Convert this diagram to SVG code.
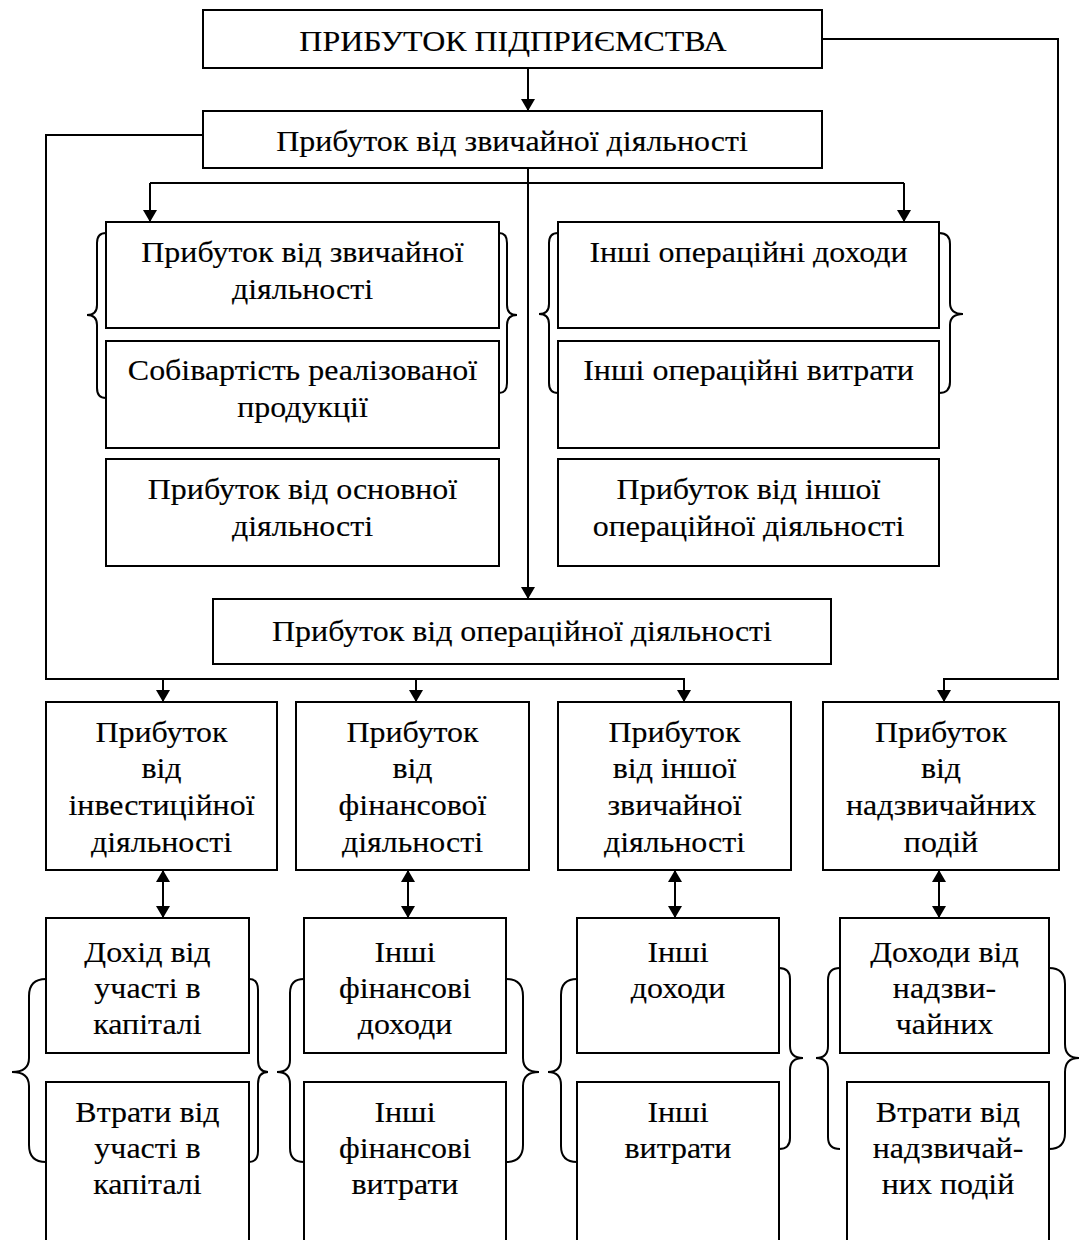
<svg xmlns="http://www.w3.org/2000/svg" width="1082" height="1240" viewBox="0 0 1082 1240">
  <style>
    .box { fill: #ffffff; stroke: #000000; stroke-width: 2; }
    .ln { fill: none; stroke: #000000; stroke-width: 2; }
    .br { fill: none; stroke: #000000; stroke-width: 2; }
    .t text { font-size: 30px; fill: #000000; stroke: #000000; stroke-width: 0.15; text-anchor: middle; }
  </style>
  <defs>
    <marker id="ah" viewBox="0 0 12 14" refX="12" refY="7" markerWidth="12" markerHeight="14" markerUnits="userSpaceOnUse" orient="auto-start-reverse">
      <path d="M0,0 L12,7 L0,14 Z" fill="#000000"/>
    </marker>
  </defs>
  <rect width="1082" height="1240" fill="#ffffff"/>

  <!-- connectors -->
  <g id="connectors">
    <path class="ln" d="M822,39 H1058 V679 H944 V702" marker-end="url(#ah)"/>
    <path class="ln" d="M528,68 V111" marker-end="url(#ah)"/>
    <path class="ln" d="M202,135 H46 V679 H684 V702" marker-end="url(#ah)"/>
    <path class="ln" d="M163,679 V702" marker-end="url(#ah)"/>
    <path class="ln" d="M416,679 V702" marker-end="url(#ah)"/>
    <path class="ln" d="M528,168 V599" marker-end="url(#ah)"/>
    <path class="ln" d="M150,183 H904"/>
    <path class="ln" d="M150,183 V222" marker-end="url(#ah)"/>
    <path class="ln" d="M904,183 V222" marker-end="url(#ah)"/>
    <path class="ln" d="M163,870 V918" marker-start="url(#ah)" marker-end="url(#ah)"/>
    <path class="ln" d="M408,870 V918" marker-start="url(#ah)" marker-end="url(#ah)"/>
    <path class="ln" d="M675,870 V918" marker-start="url(#ah)" marker-end="url(#ah)"/>
    <path class="ln" d="M939,870 V918" marker-start="url(#ah)" marker-end="url(#ah)"/>
  </g>

  <!-- braces grouping paired items -->
  <g id="braces">
    <path class="br" d="M106,233 Q97,233 97,243 V305 Q97,315 87,315 Q97,315 97,325 V388 Q97,398 106,398"/>
    <path class="br" d="M499,233 Q507,233 507,243 V305 Q507,315 517,315 Q507,315 507,325 V383 Q507,393 499,393"/>
    <path class="br" d="M558,233 Q549,233 549,243 V304 Q549,314 539,314 Q549,314 549,324 V383 Q549,393 558,393"/>
    <path class="br" d="M939,233 Q950,233 950,244 V303 Q950,314 963,314 Q950,314 950,325 V382 Q950,393 939,393"/>

    <path class="br" d="M46,979 Q29,979 29,996 V1058 Q29,1072 12,1072 Q29,1072 29,1086 V1145 Q29,1162 46,1162"/>
    <path class="br" d="M249,979 Q258,979 258,990 V1060 Q258,1072 268,1072 Q258,1072 258,1084 V1151 Q258,1162 249,1162"/>
    <path class="br" d="M304,979 Q290,979 290,993 V1060 Q290,1072 277,1072 Q290,1072 290,1084 V1148 Q290,1162 304,1162"/>
    <path class="br" d="M506,979 Q523,979 523,996 V1058 Q523,1072 539,1072 Q523,1072 523,1086 V1145 Q523,1162 506,1162"/>
    <path class="br" d="M577,979 Q561,979 561,995 V1059 Q561,1072 548,1072 Q561,1072 561,1085 V1146 Q561,1162 577,1162"/>
    <path class="br" d="M779,968 Q790,968 790,979 V1046 Q790,1058 803,1058 Q790,1058 790,1070 V1138 Q790,1149 779,1149"/>
    <path class="br" d="M840,968 Q828,968 828,980 V1046 Q828,1058 816,1058 Q828,1058 828,1070 V1137 Q828,1149 840,1149"/>
    <path class="br" d="M1049,968 Q1065,968 1065,984 V1044 Q1065,1058 1079,1058 Q1065,1058 1065,1072 V1133 Q1065,1149 1049,1149"/>
  </g>

  <!-- text blocks are widened slightly about their own centre line -->
  <g class="t" font-family="'Liberation Serif', 'Times New Roman', 'DejaVu Serif', serif">
  <g id="n-enterprise">
    <rect class="box" x="203" y="10" width="619" height="58"/>
    <g transform="matrix(1.065 0 0 1 -33.345 0)">
      <text x="513" y="51">ПРИБУТОК ПІДПРИЄМСТВА</text>
    </g>
  </g>
  <g id="n-ordinary">
    <rect class="box" x="203" y="111" width="619" height="57"/>
    <g transform="matrix(1.065 0 0 1 -33.28 0)">
      <text x="512" y="151">Прибуток від звичайної діяльності</text>
    </g>
  </g>

  <g id="n-ordinary-sub">
    <rect class="box" x="106" y="222" width="393" height="106"/>
    <g transform="matrix(1.065 0 0 1 -19.6625 0)">
      <text x="302.5" y="262">Прибуток від звичайної</text>
      <text x="302.5" y="299">діяльності</text>
    </g>
  </g>
  <g id="n-cost">
    <rect class="box" x="106" y="341" width="393" height="107"/>
    <g transform="matrix(1.065 0 0 1 -19.6625 0)">
      <text x="302.5" y="380">Собівартість реалізованої</text>
      <text x="302.5" y="417">продукції</text>
    </g>
  </g>
  <g id="n-main">
    <rect class="box" x="106" y="459" width="393" height="107"/>
    <g transform="matrix(1.065 0 0 1 -19.6625 0)">
      <text x="302.5" y="499">Прибуток від основної</text>
      <text x="302.5" y="536">діяльності</text>
    </g>
  </g>

  <g id="n-other-op-income">
    <rect class="box" x="558" y="222" width="381" height="106"/>
    <g transform="matrix(1.065 0 0 1 -48.6525 0)">
      <text x="748.5" y="262">Інші операційні доходи</text>
    </g>
  </g>
  <g id="n-other-op-expense">
    <rect class="box" x="558" y="341" width="381" height="107"/>
    <g transform="matrix(1.065 0 0 1 -48.6525 0)">
      <text x="748.5" y="380">Інші операційні витрати</text>
    </g>
  </g>
  <g id="n-other-op-profit">
    <rect class="box" x="558" y="459" width="381" height="107"/>
    <g transform="matrix(1.065 0 0 1 -48.6525 0)">
      <text x="748.5" y="499">Прибуток від іншої</text>
      <text x="748.5" y="536">операційної діяльності</text>
    </g>
  </g>

  <g id="n-operating">
    <rect class="box" x="213" y="599" width="618" height="65"/>
    <g transform="matrix(1.065 0 0 1 -33.93 0)">
      <text x="522" y="641">Прибуток від операційної діяльності</text>
    </g>
  </g>

  <g id="n-investment">
    <rect class="box" x="46" y="702" width="231" height="168"/>
    <g transform="matrix(1.065 0 0 1 -10.4975 0)">
      <text x="161.5" y="742">Прибуток</text>
      <text x="161.5" y="778">від</text>
      <text x="161.5" y="815">інвестиційної</text>
      <text x="161.5" y="852">діяльності</text>
    </g>
  </g>
  <g id="n-financial">
    <rect class="box" x="296" y="702" width="233" height="168"/>
    <g transform="matrix(1.065 0 0 1 -26.8125 0)">
      <text x="412.5" y="742">Прибуток</text>
      <text x="412.5" y="778">від</text>
      <text x="412.5" y="815">фінансової</text>
      <text x="412.5" y="852">діяльності</text>
    </g>
  </g>
  <g id="n-other-ordinary">
    <rect class="box" x="558" y="702" width="233" height="168"/>
    <g transform="matrix(1.065 0 0 1 -43.8425 0)">
      <text x="674.5" y="742">Прибуток</text>
      <text x="674.5" y="778">від іншої</text>
      <text x="674.5" y="815">звичайної</text>
      <text x="674.5" y="852">діяльності</text>
    </g>
  </g>
  <g id="n-extraordinary">
    <rect class="box" x="823" y="702" width="236" height="168"/>
    <g transform="matrix(1.065 0 0 1 -61.165 0)">
      <text x="941" y="742">Прибуток</text>
      <text x="941" y="778">від</text>
      <text x="941" y="815">надзвичайних</text>
      <text x="941" y="852">подій</text>
    </g>
  </g>

  <g id="n-equity-income">
    <rect class="box" x="46" y="918" width="203" height="135"/>
    <g transform="matrix(1.065 0 0 1 -9.5875 0)">
      <text x="147.5" y="962">Дохід від</text>
      <text x="147.5" y="998">участі в</text>
      <text x="147.5" y="1034">капіталі</text>
    </g>
  </g>
  <g id="n-equity-loss">
    <rect class="box" x="46" y="1082" width="203" height="170"/>
    <g transform="matrix(1.065 0 0 1 -9.5875 0)">
      <text x="147.5" y="1122">Втрати від</text>
      <text x="147.5" y="1158">участі в</text>
      <text x="147.5" y="1194">капіталі</text>
    </g>
  </g>
  <g id="n-fin-income">
    <rect class="box" x="304" y="918" width="202" height="135"/>
    <g transform="matrix(1.065 0 0 1 -26.325 0)">
      <text x="405" y="962">Інші</text>
      <text x="405" y="998">фінансові</text>
      <text x="405" y="1034">доходи</text>
    </g>
  </g>
  <g id="n-fin-expense">
    <rect class="box" x="304" y="1082" width="202" height="170"/>
    <g transform="matrix(1.065 0 0 1 -26.325 0)">
      <text x="405" y="1122">Інші</text>
      <text x="405" y="1158">фінансові</text>
      <text x="405" y="1194">витрати</text>
    </g>
  </g>
  <g id="n-other-income">
    <rect class="box" x="577" y="918" width="202" height="135"/>
    <g transform="matrix(1.065 0 0 1 -44.07 0)">
      <text x="678" y="962">Інші</text>
      <text x="678" y="998">доходи</text>
    </g>
  </g>
  <g id="n-other-expense">
    <rect class="box" x="577" y="1082" width="202" height="170"/>
    <g transform="matrix(1.065 0 0 1 -44.07 0)">
      <text x="678" y="1122">Інші</text>
      <text x="678" y="1158">витрати</text>
    </g>
  </g>
  <g id="n-extra-income">
    <rect class="box" x="840" y="918" width="209" height="135"/>
    <g transform="matrix(1.065 0 0 1 -61.3925 0)">
      <text x="944.5" y="962">Доходи від</text>
      <text x="944.5" y="998">надзви-</text>
      <text x="944.5" y="1034">чайних</text>
    </g>
  </g>
  <g id="n-extra-loss">
    <rect class="box" x="847" y="1082" width="202" height="170"/>
    <g transform="matrix(1.065 0 0 1 -61.62 0)">
      <text x="948" y="1122">Втрати від</text>
      <text x="948" y="1158">надзвичай-</text>
      <text x="948" y="1194">них подій</text>
    </g>
  </g>
  </g>
</svg>
